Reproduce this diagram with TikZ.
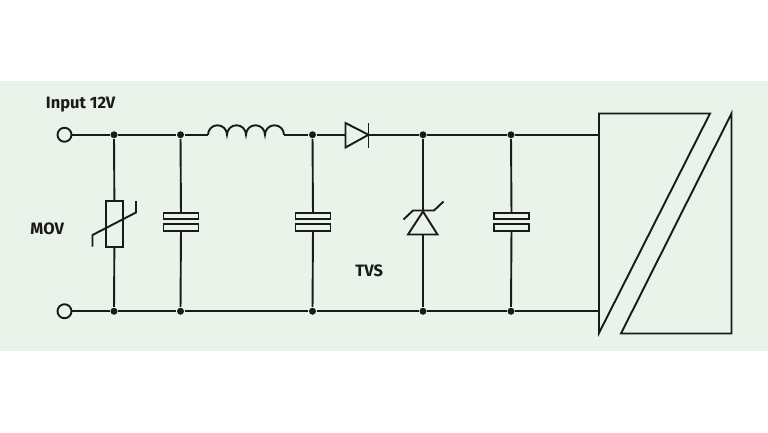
\documentclass[tikz,border=0pt]{standalone}
\usepackage{fontspec}
\setmainfont{Fira Sans}
\usetikzlibrary{positioning}
\definecolor{fondo}{HTML}{E9F3EA}
\definecolor{linea}{HTML}{1A1A1A}

\begin{document}
\begin{tikzpicture}[
    x=1pt, y=-1pt, line width=1.9pt, linea,
    terminal/.style={draw=linea, fill=fondo, circle, inner sep=0pt, minimum size=14pt},
    punto/.style={fill=linea, circle, inner sep=0pt, minimum size=7pt},
    placa/.style={draw=linea, rectangle, inner sep=0pt, minimum width=35pt, minimum height=6.4pt},
    etiqueta/.style={text=linea, font=\fontsize{16.5}{18}\selectfont\bfseries, anchor=base west, inner sep=0pt}
]

\def\Ya{134.75} % Linea superior
\def\Yb{311.25} % Linea inferior

% Fondo
\path[use as bounding box] (0,0) rectangle (768,432);
\fill[fondo] (0,81) rectangle (768,351);

% Terminales y nodos de union
\node[terminal] (entradaA) at (64.5,\Ya) {};
\node[terminal] (entradaB) at (64.5,\Yb) {};
\node[punto] (a1) at (114,\Ya) {};
\node[punto] (a2) at (180.5,\Ya) {};
\node[punto] (a3) at (312.5,\Ya) {};
\node[punto] (a4) at (423,\Ya) {};
\node[punto] (a5) at (511,\Ya) {};
\node[punto] (b1) at (114,\Yb) {};
\node[punto] (b2) at (180.5,\Yb) {};
\node[punto] (b3) at (312.5,\Yb) {};
\node[punto] (b4) at (423,\Yb) {};
\node[punto] (b5) at (511,\Yb) {};

% Puntos libres
\coordinate (bobinaIn) at (208,\Ya);
\coordinate (bobinaOut) at (284,\Ya);
\coordinate (diodoIn) at (345.5,\Ya);
\coordinate (diodoOut) at (368.5,\Ya);
\coordinate (tvsTop) at (423,211.5);
\coordinate (tvsBase) at (423,234.5);
\coordinate (fuenteA) at (599,\Ya);
\coordinate (fuenteB) at (599,\Yb);

% Lineas principales
\draw (entradaA) -- (a1) -- (a2) -- (bobinaIn);
\draw (bobinaOut) -- (a3) -- (diodoIn);
\draw (diodoOut) -- (a4) -- (a5) -- (fuenteA);
\draw (entradaB) -- (b1) -- (b2) -- (b3) -- (b4) -- (b5) -- (fuenteB);

% Bobina
\draw (bobinaIn) arc[start angle=180, end angle=0, radius=9.5pt]
    arc[start angle=180, end angle=0, radius=9.5pt]
    arc[start angle=180, end angle=0, radius=9.5pt]
    arc[start angle=180, end angle=0, radius=9.5pt];

% Diodo
\draw (diodoIn) -- (345.5,123) -- (diodoOut) -- (345.5,147.5) -- cycle;
\draw (368.5,123) -- (368.5,148);

% Varistor
\node[draw=linea, rectangle, inner sep=0pt, minimum width=17.5pt, minimum height=45.5pt] (mov) at (114.5,224) {};
\draw (a1) -- (mov);
\draw (mov) -- (b1);
\draw (92.5,246.5) -- (92.5,235) -- (136,212.5) -- (136,201);

% Condensadores
\node[placa] (c1a) at (181,216) {};
\node[placa] (c1b) at (181,227.6) {};
\draw (a2) -- (c1a);
\draw (c1b) -- (b2);

\node[placa] (c2a) at (313,216) {};
\node[placa] (c2b) at (313,227.6) {};
\draw (a3) -- (c2a);
\draw (c2b) -- (b3);

\node[placa] (c3a) at (511.5,216) {};
\node[placa] (c3b) at (511.5,227.6) {};
\draw (a5) -- (c3a);
\draw (c3b) -- (b5);

% TVS
\draw (tvsTop) -- (437.5,234.5) -- (408,234.5) -- cycle;
\draw (403.5,219.5) -- (413,210.5) -- (434,210.5) -- (443.5,201.5);
\draw (a4) -- (tvsTop);
\draw (tvsBase) -- (b4);

% Convertidor
\draw (710,113.5) -- (599,113.5) -- (599,333) -- cycle;
\draw (731.5,113.5) -- (731.5,333.5) -- (621,333.5) -- cycle;

% Etiquetas
\node[etiqueta] (lblEntrada) at (45,108.5) {Input 12V};
\node[etiqueta] (lblMov) at (29.5,234.5) {MOV};
\node[etiqueta] (lblTvs) at (354.5,276.5) {TVS};

\end{tikzpicture}
\end{document}
